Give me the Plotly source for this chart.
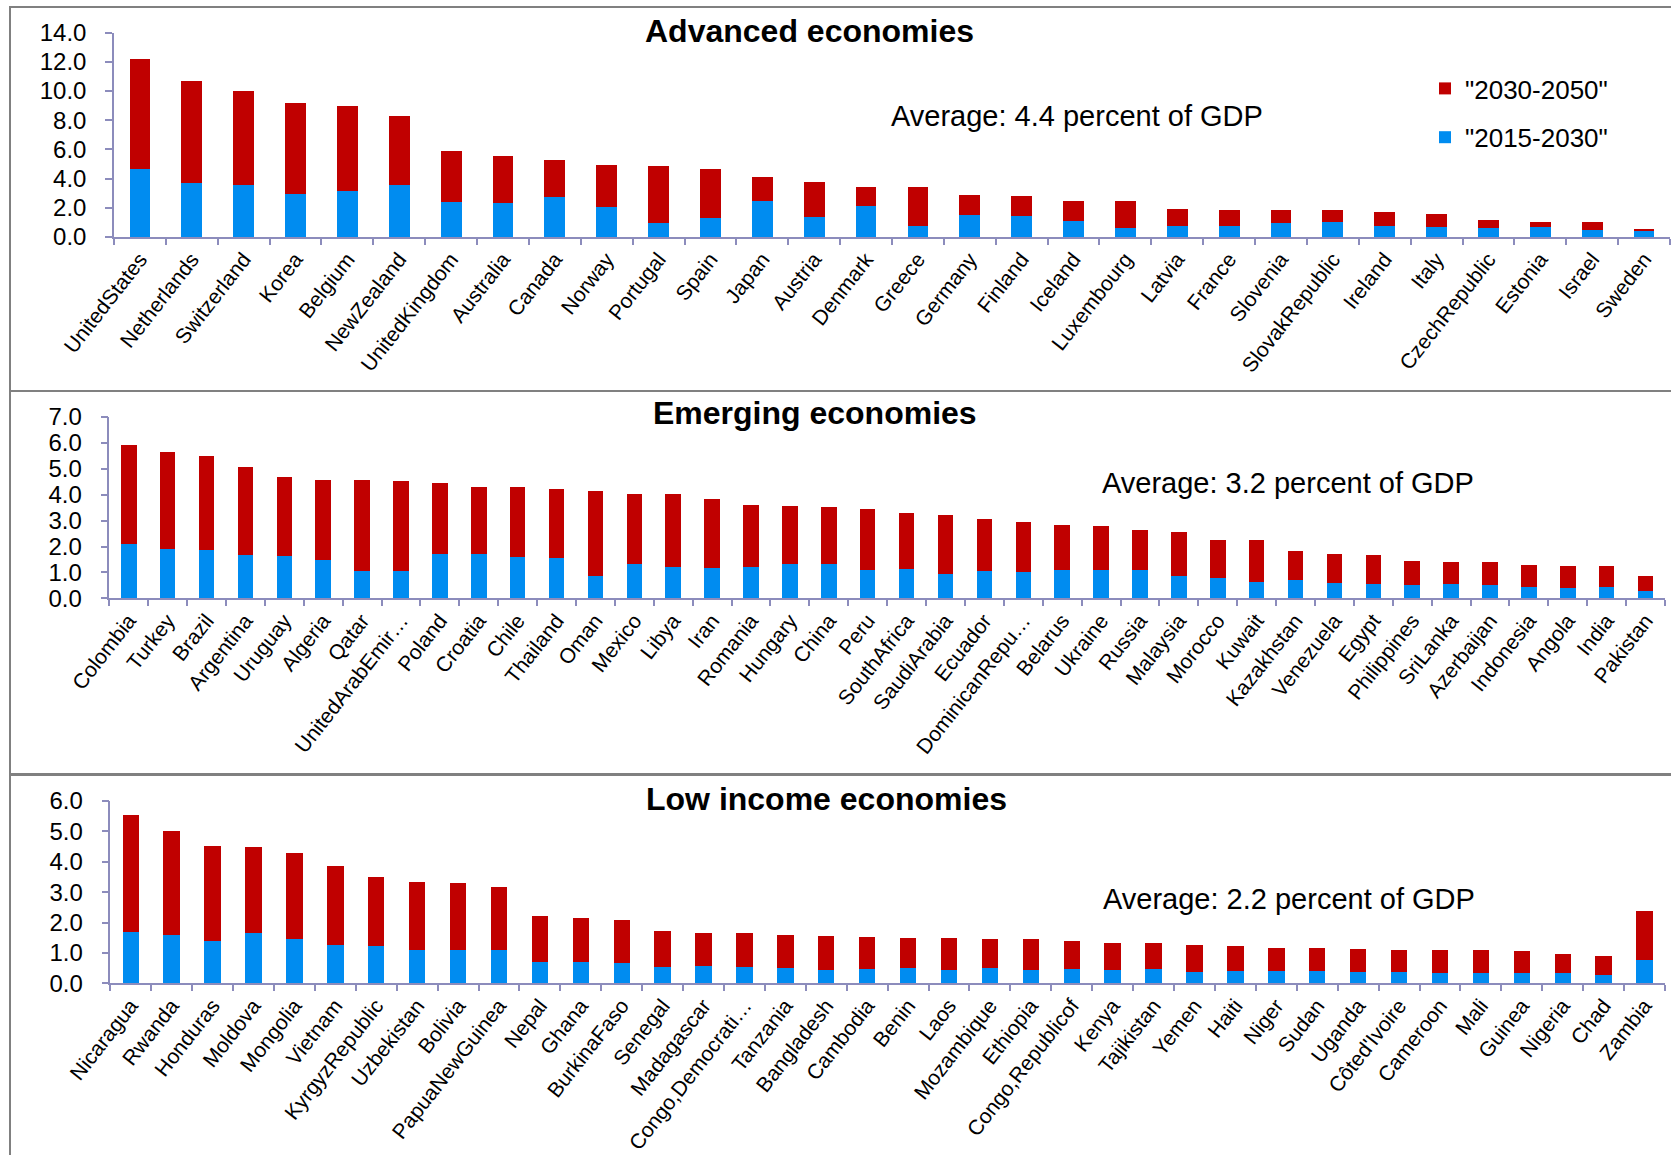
import plotly.graph_objects as go

# ---------------------------------------------------------------------------
# Data: additional spending need (percent of GDP), split by period
# ---------------------------------------------------------------------------
adv_countries = [
    "UnitedStates", "Netherlands", "Switzerland", "Korea", "Belgium", "NewZealand",
    "UnitedKingdom", "Australia", "Canada", "Norway", "Portugal", "Spain", "Japan",
    "Austria", "Denmark", "Greece", "Germany", "Finland", "Iceland", "Luxembourg",
    "Latvia", "France", "Slovenia", "SlovakRepublic", "Ireland", "Italy",
    "CzechRepublic", "Estonia", "Israel", "Sweden",
]
adv_2015_2030 = [
    4.69, 3.68, 3.55, 2.93, 3.18, 3.57, 2.43, 2.31, 2.72, 2.06, 0.96, 1.33, 2.45,
    1.35, 2.10, 0.75, 1.49, 1.44, 1.08, 0.64, 0.73, 0.73, 0.94, 1.01, 0.73, 0.71,
    0.64, 0.66, 0.46, 0.39,
]
adv_2030_2050 = [
    7.48, 7.00, 6.47, 6.24, 5.83, 4.71, 3.47, 3.23, 2.59, 2.86, 3.89, 3.31, 1.65,
    2.40, 1.35, 2.68, 1.39, 1.35, 1.41, 1.81, 1.17, 1.15, 0.91, 0.82, 0.96, 0.89,
    0.50, 0.39, 0.55, 0.14,
]

em_countries = [
    "Colombia", "Turkey", "Brazil", "Argentina", "Uruguay", "Algeria", "Qatar",
    "UnitedArabEmir\u2026", "Poland", "Croatia", "Chile", "Thailand", "Oman",
    "Mexico", "Libya", "Iran", "Romania", "Hungary", "China", "Peru",
    "SouthAfrica", "SaudiArabia", "Ecuador", "DominicanRepu\u2026", "Belarus",
    "Ukraine", "Russia", "Malaysia", "Morocco", "Kuwait", "Kazakhstan",
    "Venezuela", "Egypt", "Philippines", "SriLanka", "Azerbaijan", "Indonesia",
    "Angola", "India", "Pakistan",
]
em_2015_2030 = [
    2.11, 1.89, 1.87, 1.69, 1.62, 1.47, 1.07, 1.04, 1.71, 1.70, 1.61, 1.57, 0.85,
    1.31, 1.20, 1.16, 1.21, 1.33, 1.33, 1.11, 1.13, 0.94, 1.04, 1.00, 1.11, 1.08,
    1.08, 0.86, 0.78, 0.64, 0.69, 0.59, 0.54, 0.50, 0.54, 0.50, 0.45, 0.41, 0.42,
    0.27,
]
em_2030_2050 = [
    3.80, 3.75, 3.61, 3.39, 3.06, 3.11, 3.50, 3.48, 2.74, 2.60, 2.68, 2.64, 3.29,
    2.73, 2.83, 2.67, 2.38, 2.22, 2.20, 2.33, 2.15, 2.26, 2.04, 1.95, 1.73, 1.71,
    1.56, 1.70, 1.46, 1.60, 1.12, 1.11, 1.12, 0.94, 0.85, 0.89, 0.84, 0.84, 0.82,
    0.61,
]

li_countries = [
    "Nicaragua", "Rwanda", "Honduras", "Moldova", "Mongolia", "Vietnam",
    "KyrgyzRepublic", "Uzbekistan", "Bolivia", "PapuaNewGuinea", "Nepal", "Ghana",
    "BurkinaFaso", "Senegal", "Madagascar", "Congo,Democrati\u2026", "Tanzania",
    "Bangladesh", "Cambodia", "Benin", "Laos", "Mozambique", "Ethiopia",
    "Congo,Republicof", "Kenya", "Tajikistan", "Yemen", "Haiti", "Niger", "Sudan",
    "Uganda", "C\u00f4ted'Ivoire", "Cameroon", "Mali", "Guinea", "Nigeria", "Chad",
    "Zambia",
]
li_2015_2030 = [
    1.68, 1.59, 1.38, 1.66, 1.45, 1.26, 1.23, 1.10, 1.10, 1.10, 0.69, 0.69, 0.67,
    0.54, 0.56, 0.53, 0.50, 0.45, 0.47, 0.49, 0.43, 0.49, 0.43, 0.46, 0.43, 0.46,
    0.36, 0.39, 0.41, 0.39, 0.36, 0.37, 0.34, 0.34, 0.34, 0.33, 0.27, 0.78,
]
li_2030_2050 = [
    3.86, 3.41, 3.14, 2.82, 2.83, 2.60, 2.27, 2.25, 2.19, 2.08, 1.54, 1.45, 1.40,
    1.18, 1.11, 1.12, 1.09, 1.10, 1.04, 0.99, 1.05, 0.98, 1.03, 0.92, 0.90, 0.87,
    0.90, 0.85, 0.74, 0.76, 0.78, 0.73, 0.76, 0.76, 0.72, 0.65, 0.63, 1.61,
]

panel_titles = ["Advanced economies", "Emerging economies", "Low income economies"]
panel_notes = [
    "Average: 4.4 percent of GDP",
    "Average: 3.2 percent of GDP",
    "Average: 2.2 percent of GDP",
]
series_names = ['"2015-2030"', '"2030-2050"']

# ---------------------------------------------------------------------------
# Styling / page geometry (pixels on a 1671 x 1155 page)
# ---------------------------------------------------------------------------
W, H = 1671, 1155
RED = "#C00000"
BLUE = "#008CF0"
AXIS = "#8c8cbc"
BORDER = "#808080"
FONT = "Liberation Sans, Arial, Helvetica, sans-serif"


def fx(px):
    return px / W


def fy(py):
    return 1 - py / H


layout_spec = [
    dict(ymax=14, dtick=2, left=114, right=1670, base=237, top=32.7,
         title_at=(809.5, 31), note_at=(1077, 116), box=(7, 391)),
    dict(ymax=7, dtick=1, left=109.3, right=1665, base=598.3, top=417,
         title_at=(815, 413), note_at=(1288, 483), box=(391, 774)),
    dict(ymax=6, dtick=1, left=110.3, right=1665, base=983.3, top=801,
         title_at=(826, 799), note_at=(1289, 899), box=(775, 1170)),
]

panels = [
    (adv_countries, adv_2015_2030, adv_2030_2050),
    (em_countries, em_2015_2030, em_2030_2050),
    (li_countries, li_2015_2030, li_2030_2050),
]

fig = go.Figure()

annotations = []
shapes = []
axis_layout = {}

for i, ((cats, near, far), spec) in enumerate(zip(panels, layout_spec)):
    sfx = "" if i == 0 else str(i + 1)
    xa, ya = "x" + sfx, "y" + sfx

    fig.add_trace(go.Bar(
        x=cats, y=near, name=series_names[0], marker_color=BLUE,
        marker_line_width=0, xaxis=xa, yaxis=ya,
        legendgroup="near", legendrank=2, showlegend=(i == 0),
    ))
    fig.add_trace(go.Bar(
        x=cats, y=far, name=series_names[1], marker_color=RED,
        marker_line_width=0, xaxis=xa, yaxis=ya,
        legendgroup="far", legendrank=1, showlegend=(i == 0),
    ))

    axis_layout["xaxis" + sfx] = dict(
        domain=[fx(spec["left"]), fx(spec["right"])],
        anchor=ya,
        type="category",
        automargin=False,
        showline=True, linecolor=AXIS, linewidth=1.5,
        ticks="outside", tickson="boundaries", ticklen=6,
        tickwidth=1.5, tickcolor=AXIS,
        tickangle=-52,
        tickfont=dict(family=FONT, size=21, color="black"),
        showgrid=False, zeroline=False,
    )
    axis_layout["yaxis" + sfx] = dict(
        domain=[fy(spec["base"]), fy(spec["top"])],
        anchor=xa,
        automargin=False,
        range=[0, spec["ymax"]],
        dtick=spec["dtick"], tick0=0, tickformat=".1f",
        showline=True, linecolor=AXIS, linewidth=1.5,
        ticks="outside", ticklen=7, tickwidth=1.5, tickcolor=AXIS,
        ticklabelstandoff=14,
        tickfont=dict(family=FONT, size=24, color="black"),
        showgrid=False, zeroline=False,
    )

    tx, ty = spec["title_at"]
    annotations.append(dict(
        text="<b>" + panel_titles[i] + "</b>", xref="paper", yref="paper",
        x=fx(tx), y=fy(ty), xanchor="center", yanchor="middle",
        showarrow=False, font=dict(family=FONT, size=32, color="black"),
    ))
    nx, ny = spec["note_at"]
    annotations.append(dict(
        text=panel_notes[i], xref="paper", yref="paper",
        x=fx(nx), y=fy(ny), xanchor="center", yanchor="middle",
        showarrow=False, font=dict(family=FONT, size=29, color="black"),
    ))

    b0, b1 = spec["box"]
    shapes.append(dict(
        type="rect", xref="paper", yref="paper",
        x0=fx(10), x1=fx(1690), y0=fy(b1), y1=fy(b0),
        line=dict(color=BORDER, width=2), fillcolor="rgba(0,0,0,0)",
        layer="below",
    ))

fig.update_layout(
    width=W, height=H,
    margin=dict(l=0, r=0, t=0, b=0, autoexpand=False),
    paper_bgcolor="white", plot_bgcolor="white",
    barmode="stack", bargap=0.6,
    font=dict(family=FONT, color="black"),
    showlegend=True,
    legend=dict(
        x=fx(1425), y=fy(65), xanchor="left", yanchor="top",
        traceorder="grouped", tracegroupgap=12,
        font=dict(family=FONT, size=26, color="black"),
        bgcolor="rgba(0,0,0,0)", borderwidth=0,
    ),
    annotations=annotations,
    shapes=shapes,
    **axis_layout,
)

fig.write_html("out.html")
